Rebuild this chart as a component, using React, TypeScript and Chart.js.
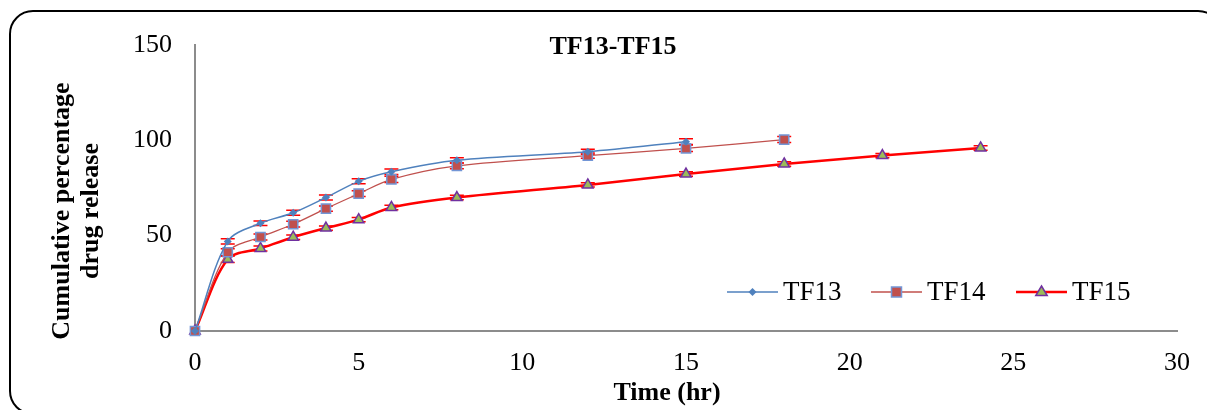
import React, { useEffect, useRef } from "react";
import { Chart, registerables } from "chart.js";

Chart.register(...registerables);

const chartTitle = "TF13-TF15";
const xTitle = "Time (hr)";
const yTitleLines = ["Cumulative percentage", "drug release"];
const seriesNames = ["TF13", "TF14", "TF15"];

const tf13Time = [0, 1, 2, 3, 4, 5, 6, 8, 12, 15];
const tf13Values = [0, 47, 56.5, 62, 70, 78.5, 83.5, 89.5, 94, 99.3];
const tf13Errors = [0, 1.4, 1.2, 1.3, 1.3, 1.3, 1.4, 1.4, 1.3, 1.5];

const tf14Time = [0, 1, 2, 3, 4, 5, 6, 8, 12, 15, 18];
const tf14Values = [0, 41.3, 49.3, 56, 64.2, 72, 79.5, 86.6, 92, 95.8, 100.4];
const tf14Errors = [0, 1.8, 1.6, 1.5, 1.4, 1.5, 1.6, 1.5, 1.4, 1.7, 1.6];

const tf15Time = [0, 1, 2, 3, 4, 5, 6, 8, 12, 15, 18, 21, 24];
const tf15Values = [0, 37.6, 43.3, 49.2, 54, 58.4, 64.8, 70, 76.6, 82.3, 87.6, 92, 96];
const tf15Errors = [0, 1.7, 1.3, 1.2, 1.1, 1.1, 1.2, 1.2, 1.1, 1.2, 1.2, 1.1, 1.2];

const xTicks = [0, 5, 10, 15, 20, 25, 30];
const yTicks = [0, 50, 100, 150];

const FONT = "'Liberation Serif', 'Times New Roman', serif";

const errorsBySeries = [tf13Errors, tf14Errors, tf15Errors];

const toPoints = (xs: number[], ys: number[]) => xs.map((x, i) => ({ x, y: ys[i] }));

function drawMarker(ctx: CanvasRenderingContext2D, idx: number, x: number, y: number) {
  ctx.save();
  if (idx === 0) {
    const r = 4;
    ctx.fillStyle = "#4F81BD";
    ctx.beginPath();
    ctx.moveTo(x, y - r);
    ctx.lineTo(x + r, y);
    ctx.lineTo(x, y + r);
    ctx.lineTo(x - r, y);
    ctx.closePath();
    ctx.fill();
  } else if (idx === 1) {
    const s = 5;
    ctx.fillStyle = "#C0504D";
    ctx.strokeStyle = "#7396D6";
    ctx.lineWidth = 1.5;
    ctx.fillRect(x - s, y - s, 2 * s, 2 * s);
    ctx.strokeRect(x - s, y - s, 2 * s, 2 * s);
  } else {
    const r = 6;
    ctx.fillStyle = "#9BBB59";
    ctx.strokeStyle = "#7030A0";
    ctx.lineWidth = 1.5;
    ctx.beginPath();
    ctx.moveTo(x, y - r);
    ctx.lineTo(x + r * 0.95, y + r * 0.6);
    ctx.lineTo(x - r * 0.95, y + r * 0.6);
    ctx.closePath();
    ctx.fill();
    ctx.stroke();
  }
  ctx.restore();
}

const errorBarPlugin = {
  id: "errorBars",
  beforeDatasetsDraw(chart: any) {
    const ctx = chart.ctx as CanvasRenderingContext2D;
    const xs = chart.scales.x;
    const ys = chart.scales.y;
    ctx.save();
    ctx.strokeStyle = "#FF0000";
    ctx.lineWidth = 1.5;
    chart.data.datasets.forEach((ds: any, di: number) => {
      const errs = errorsBySeries[di];
      ds.data.forEach((p: any, i: number) => {
        const e = errs[i];
        if (!e) return;
        const px = xs.getPixelForValue(p.x);
        const top = ys.getPixelForValue(p.y + e);
        const bot = ys.getPixelForValue(p.y - e);
        ctx.beginPath();
        ctx.moveTo(px, top);
        ctx.lineTo(px, bot);
        ctx.moveTo(px - 7, top);
        ctx.lineTo(px + 7, top);
        ctx.moveTo(px - 7, bot);
        ctx.lineTo(px + 7, bot);
        ctx.stroke();
      });
    });
    ctx.restore();
  },
};

const textPlugin = {
  id: "textDecor",
  afterDraw(chart: any) {
    const ctx = chart.ctx as CanvasRenderingContext2D;
    ctx.save();
    ctx.fillStyle = "#000";
    ctx.textAlign = "center";
    ctx.textBaseline = "middle";
    // chart title
    ctx.font = `bold 26px ${FONT}`;
    ctx.fillText(chartTitle, 613, 47);
    // x title
    ctx.font = `bold 26px ${FONT}`;
    ctx.fillText(xTitle, 667, 393);
    // y title
    ctx.save();
    ctx.translate(62, 211);
    ctx.rotate(-Math.PI / 2);
    ctx.font = `bold 26px ${FONT}`;
    yTitleLines.forEach((line, i) => ctx.fillText(line, 0, i * 29));
    ctx.restore();

    // legend
    const ly = 292;
    const starts = [727, 871, 1016];
    const colors = ["#4F81BD", "#C0504D", "#FF0000"];
    const widths = [1.5, 1.5, 2.5];
    ctx.font = `27px ${FONT}`;
    ctx.textAlign = "left";
    starts.forEach((sx, i) => {
      ctx.strokeStyle = colors[i];
      ctx.lineWidth = widths[i];
      ctx.beginPath();
      ctx.moveTo(sx, ly);
      ctx.lineTo(sx + 51, ly);
      ctx.stroke();
      drawMarker(ctx, i, sx + 25.5, ly);
      ctx.fillStyle = "#000";
      ctx.fillText(seriesNames[i], sx + 56, ly + 1);
    });
    ctx.restore();
  },
};

export default function App() {
  const canvasRef = useRef<HTMLCanvasElement | null>(null);

  useEffect(() => {
    document.body.style.margin = "0";
    document.body.style.overflow = "hidden";
    const canvas = canvasRef.current;
    if (!canvas) return;

    const chart = new Chart(canvas, {
      type: "line",
      data: {
        datasets: [
          {
            label: seriesNames[0],
            data: toPoints(tf13Time, tf13Values),
            borderColor: "#4F81BD",
            borderWidth: 1.5,
            pointStyle: "rectRot",
            pointRadius: 4,
            pointBackgroundColor: "#4F81BD",
            pointBorderColor: "#4F81BD",
            pointBorderWidth: 0,
            tension: 0.32,
            fill: false,
            clip: false,
          },
          {
            label: seriesNames[1],
            data: toPoints(tf14Time, tf14Values),
            borderColor: "#C0504D",
            borderWidth: 1.3,
            pointStyle: "rect",
            pointRadius: 6.5,
            pointBackgroundColor: "#C0504D",
            pointBorderColor: "#7396D6",
            pointBorderWidth: 1.5,
            tension: 0.32,
            fill: false,
            clip: false,
          },
          {
            label: seriesNames[2],
            data: toPoints(tf15Time, tf15Values),
            borderColor: "#FF0000",
            borderWidth: 2.5,
            pointStyle: "triangle",
            pointRadius: 6,
            pointBackgroundColor: "#9BBB59",
            pointBorderColor: "#7030A0",
            pointBorderWidth: 1.5,
            tension: 0.32,
            fill: false,
            clip: false,
          },
        ],
      },
      options: {
        animation: false,
        responsive: false,
        layout: { padding: { left: 0, top: 45, right: 29, bottom: 0 } },
        plugins: {
          legend: { display: false },
          title: { display: false },
          tooltip: { enabled: false },
        },
        scales: {
          x: {
            type: "linear",
            min: 0,
            max: 30,
            afterBuildTicks: (scale: any) => {
              scale.ticks = xTicks.map((v) => ({ value: v }));
            },
            afterFit: (scale: any) => {
              scale.height = 79;
            },
            grid: { display: false, drawTicks: false },
            border: { display: true, color: "#8C8C8C", width: 2 },
            ticks: {
              color: "#000",
              font: { family: FONT, size: 26 },
              padding: 17,
              maxRotation: 0,
            },
          },
          y: {
            type: "linear",
            min: 0,
            max: 150,
            afterBuildTicks: (scale: any) => {
              scale.ticks = yTicks.map((v) => ({ value: v }));
            },
            afterFit: (scale: any) => {
              scale.width = 195;
            },
            grid: { display: false, drawTicks: false },
            border: { display: true, color: "#8C8C8C", width: 2 },
            ticks: {
              color: "#000",
              font: { family: FONT, size: 26 },
              padding: 23,
            },
          },
        },
      },
      plugins: [errorBarPlugin, textPlugin],
    });

    return () => chart.destroy();
  }, []);

  return (
    <div style={{ position: "relative", width: 1207, height: 410, overflow: "hidden", background: "#fff" }}>
      <canvas ref={canvasRef} width={1207} height={410} style={{ display: "block", width: 1207, height: 410 }} />
      <div
        style={{
          position: "absolute",
          left: 9,
          top: 10,
          width: 1213,
          height: 405,
          border: "2px solid #000",
          borderRadius: 24,
          boxSizing: "border-box",
          pointerEvents: "none",
        }}
      />
    </div>
  );
}
